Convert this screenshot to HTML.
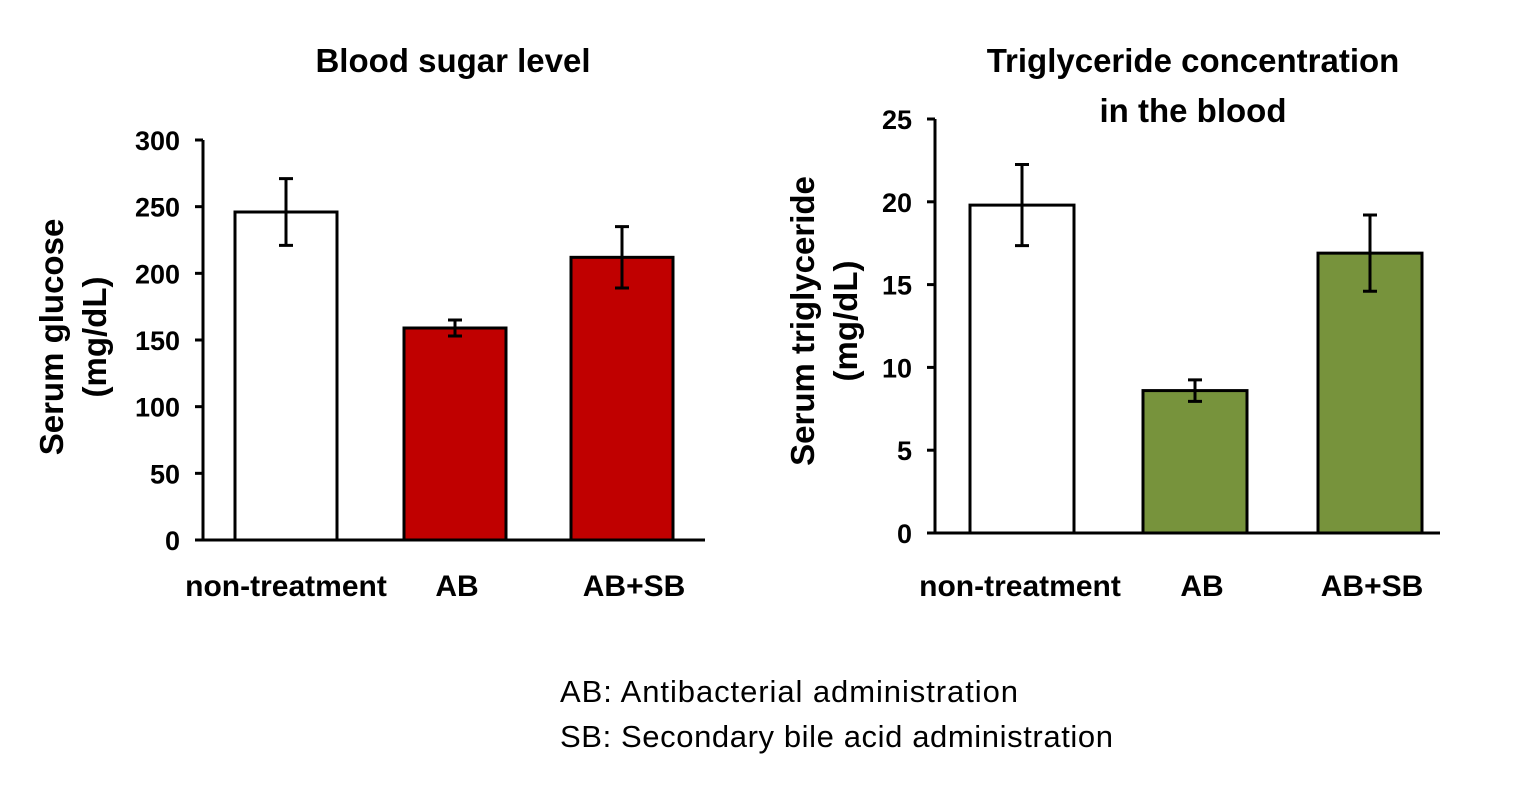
<!DOCTYPE html>
<html><head><meta charset="utf-8"><style>
body{margin:0;background:#fff;width:1540px;height:800px;overflow:hidden}
svg text{font-family:"Liberation Sans",sans-serif}
</style></head><body>
<svg id="s" width="1540" height="800">
<text x="453" y="72" font-size="33" font-weight="bold" text-anchor="middle">Blood sugar level</text>
<text x="1193" y="72" font-size="33" font-weight="bold" text-anchor="middle">Triglyceride concentration</text>
<text x="1193" y="122" font-size="33" font-weight="bold" text-anchor="middle">in the blood</text>
<text transform="translate(63,337) rotate(-90)" font-size="33" font-weight="bold" text-anchor="middle">Serum glucose</text>
<text transform="translate(106,337) rotate(-90)" font-size="33" font-weight="bold" text-anchor="middle">(mg/dL)</text>
<text transform="translate(814,321) rotate(-90)" font-size="33" font-weight="bold" text-anchor="middle">Serum triglyceride</text>
<text transform="translate(857,321) rotate(-90)" font-size="33" font-weight="bold" text-anchor="middle">(mg/dL)</text>
<text x="560" y="702" font-size="31" textLength="458">AB: Antibacterial administration</text>
<text x="560" y="747" font-size="31" textLength="553">SB:  Secondary bile acid administration</text>
<g id="g"></g>
</svg>
<script>
const categories=["non-treatment","AB","AB+SB"];
const glucoseValues=[246,159,212];
const glucoseErrors=[25,6,23];
const glucoseTicks=[0,50,100,150,200,250,300];
const trigValues=[19.8,8.6,16.9];
const trigErrors=[2.45,0.65,2.3];
const trigTicks=[0,5,10,15,20,25];
const NS="http://www.w3.org/2000/svg";
const g=document.getElementById('g');
function mk(t,a){const e=document.createElementNS(NS,t);for(const k in a)e.setAttribute(k,a[k]);g.appendChild(e);return e;}
function chart(cfg){
  const y=v=>cfg.y0-(v/cfg.max)*(cfg.y0-cfg.yTop);
  cfg.ticks.forEach(t=>{
    const l=mk('line',{x1:cfg.ax-8,x2:cfg.ax,y1:y(t),y2:y(t),stroke:'#000','stroke-width':3});
    
    
    const tx=mk('text',{x:cfg.ax-23,y:y(t)+10,'font-size':27,'font-weight':'bold','text-anchor':'end'});
    tx.textContent=t;
    
    
  });
  cfg.values.forEach((v,i)=>{
    const cx=cfg.centers[i];
    const b=mk('rect',{x:cx-cfg.bw/2,y:y(v),width:cfg.bw,height:cfg.y0-y(v),fill:i==0?'#fff':cfg.color,stroke:'#000','stroke-width':3});
    
    
    const e=cfg.errors[i];
    const el=mk('path',{d:`M${cx},${y(v+e)}V${y(v-e)}M${cx-7},${y(v+e)}H${cx+7}M${cx-7},${y(v-e)}H${cx+7}`,stroke:'#000','stroke-width':3,fill:'none'});
    
    
    const lb=mk('text',{x:cfg.labelX[i],y:596,'font-size':30,'font-weight':'bold','text-anchor':'middle'});
    lb.textContent=categories[i];
    
    
  });
  const ax=mk('path',{d:`M${cfg.ax},${cfg.yTop}V${cfg.y0}H${cfg.xEnd}`,stroke:'#000','stroke-width':3,fill:'none'});
  
  
}
chart({ax:203,y0:540,yTop:140,max:300,xEnd:705,centers:[286,455,622],labelX:[286,457,634],bw:102,color:'#c00000',values:glucoseValues,errors:glucoseErrors,ticks:glucoseTicks});
chart({ax:935,y0:533,yTop:119,max:25,xEnd:1440,centers:[1022,1195,1370],labelX:[1020,1202,1372],bw:104,color:'#77933c',values:trigValues,errors:trigErrors,ticks:trigTicks});
</script>
</body></html>
